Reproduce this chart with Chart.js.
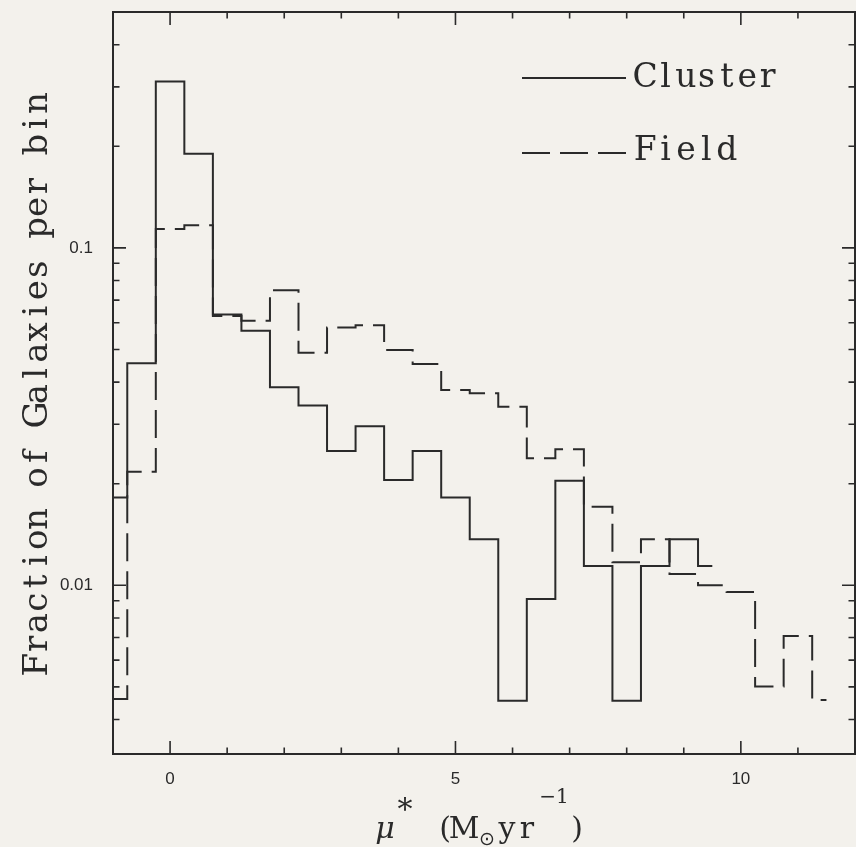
<!DOCTYPE html>
<html>
<head>
<meta charset="utf-8">
<script src="https://cdn.jsdelivr.net/npm/chart.js@4.4.1/dist/chart.umd.min.js"></script>
<style>
  html, body { margin: 0; padding: 0; background: #f3f1ec; }
  #c { display: block; }
</style>
</head>
<body>
<canvas id="c" width="856" height="847"></canvas>
<script>
// Histogram bins: centres of 0.5-wide bins in mu* (M_sun / yr)
const binCenters = [-1.0, -0.5, 0.0, 0.5, 1.0, 1.5, 2.0, 2.5, 3.0, 3.5, 4.0, 4.5, 5.0, 5.5,
                    6.0, 6.5, 7.0, 7.5, 8.0, 8.5, 9.0, 9.5, 10.0, 10.5, 11.0, 11.5, 12.0];

// Fraction of galaxies per bin
const clusterFrac = [0.0182, 0.0455, 0.311, 0.190, 0.0635, 0.0568, 0.0386, 0.0341, 0.0250, 0.0296,
                     0.0205, 0.0250, 0.0182, 0.0137, 0.00455, 0.0091, 0.0204, 0.0114, 0.00455, 0.0114,
                     0.0137, 0.0114, 0, 0, 0, 0, 0];
const fieldFrac   = [0.0046, 0.0217, 0.1138, 0.1167, 0.0628, 0.0608, 0.0749, 0.0489, 0.0581, 0.0590,
                     0.0498, 0.0453, 0.0379, 0.0371, 0.0338, 0.0238, 0.0253, 0.0171, 0.0117, 0.0137,
                     0.0108, 0.0100, 0.00955, 0.00501, 0.00708, 0.00457, 0];

// Axis ticks
const xTickLabels = [0, 5, 10];
const xMinorTicks = [-1, 0, 1, 2, 3, 4, 5, 6, 7, 8, 9, 10, 11, 12];
const yTickLabels = [0.01, 0.1];
const yMinorTicks = [0.004, 0.005, 0.006, 0.007, 0.008, 0.009, 0.01,
                     0.02, 0.03, 0.04, 0.05, 0.06, 0.07, 0.08, 0.09, 0.1,
                     0.2, 0.3, 0.4];

const INK = '#2a2a2a';
const PAPER = '#f3f1ec';
const SERIF = '"DejaVu Serif", "Liberation Serif", serif';

// Draw a string with every character centred in a fixed-width cell (typewriter look)
function monoText(ctx, str, x, y, cell) {
  ctx.textAlign = 'center';
  for (let i = 0; i < str.length; i++) {
    ctx.fillText(str[i], x + cell * (i + 0.5), y);
  }
}

const framePlugin = {
  id: 'frame',
  beforeDraw(chart) {
    const c = chart.ctx;
    c.save();
    c.fillStyle = PAPER;
    c.fillRect(0, 0, chart.width, chart.height);
    c.restore();
  },
  afterDraw(chart) {
    const { ctx, chartArea: a, scales: { x, y } } = chart;
    ctx.save();
    ctx.setLineDash([]);
    ctx.strokeStyle = INK;
    ctx.fillStyle = INK;

    // box round the plot
    ctx.lineWidth = 2;
    ctx.strokeRect(a.left, a.top, a.right - a.left, a.bottom - a.top);

    // inward tick marks on all four sides
    ctx.lineWidth = 1.6;
    ctx.beginPath();
    for (const v of xMinorTicks) {
      const px = x.getPixelForValue(v);
      const len = xTickLabels.includes(v) ? 13 : 6.5;
      ctx.moveTo(px, a.bottom); ctx.lineTo(px, a.bottom - len);
      ctx.moveTo(px, a.top); ctx.lineTo(px, a.top + len);
    }
    for (const v of yMinorTicks) {
      const py = y.getPixelForValue(v);
      const len = yTickLabels.includes(v) ? 13 : 6.5;
      ctx.moveTo(a.left, py); ctx.lineTo(a.left + len, py);
      ctx.moveTo(a.right, py); ctx.lineTo(a.right - len, py);
    }
    ctx.stroke();

    // legend: line sample + label, styled from each dataset
    const rows = [{ line: 78, text: 87 }, { line: 153, text: 160 }];
    chart.data.datasets.forEach((ds, i) => {
      const r = rows[i];
      ctx.lineWidth = 1.8;
      ctx.setLineDash(ds.borderDash || []);
      ctx.beginPath();
      ctx.moveTo(522, r.line);
      ctx.lineTo(626, r.line);
      ctx.stroke();
      ctx.setLineDash([]);
      ctx.font = '33px ' + SERIF;
      ctx.textBaseline = 'alphabetic';
      monoText(ctx, ds.label, 635, r.text, 20.4);
    });

    // y-axis title, rotated
    ctx.save();
    ctx.translate(47, 675);
    ctx.rotate(-Math.PI / 2);
    ctx.font = '34px ' + SERIF;
    ctx.textBaseline = 'alphabetic';
    monoText(ctx, 'Fraction of Galaxies per bin', 0, 0, 20.8);
    ctx.restore();

    // x-axis title: mu* (M_sun yr^-1)
    ctx.textBaseline = 'alphabetic';
    ctx.textAlign = 'center';
    ctx.font = 'italic 30px ' + SERIF;
    ctx.fillText('\u03BC', 385, 838);
    ctx.font = '30px ' + SERIF;
    ctx.fillText('*', 405, 819);
    ctx.fillText('(', 445, 838);
    ctx.fillText('M', 464, 838);
    ctx.font = '19px "DejaVu Sans", sans-serif';
    ctx.fillText('\u2299', 487, 845);
    ctx.font = '30px ' + SERIF;
    ctx.fillText('y', 507, 838);
    ctx.fillText('r', 527, 838);
    ctx.font = '20px ' + SERIF;
    ctx.fillText('\u22121', 554, 803);
    ctx.font = '30px ' + SERIF;
    ctx.fillText(')', 577, 838);

    ctx.restore();
  }
};

function toPoints(values) {
  return binCenters.map((c, i) => ({ x: c, y: values[i] }));
}

new Chart(document.getElementById('c'), {
  type: 'line',
  data: {
    datasets: [
      {
        label: 'Cluster',
        data: toPoints(clusterFrac),
        stepped: 'middle',
        borderColor: INK,
        borderWidth: 2,
        pointRadius: 0,
        fill: false
      },
      {
        label: 'Field',
        data: toPoints(fieldFrac),
        stepped: 'middle',
        borderColor: INK,
        borderWidth: 2,
        borderDash: [28, 10],
        pointRadius: 0,
        fill: false
      }
    ]
  },
  options: {
    responsive: false,
    animation: false,
    devicePixelRatio: 1,
    layout: { padding: { left: 0, top: 12, right: 1, bottom: 0 } },
    plugins: { legend: { display: false }, tooltip: { enabled: false } },
    scales: {
      x: {
        type: 'linear',
        min: -1,
        max: 12,
        grid: { display: false, drawTicks: false },
        border: { display: false },
        afterBuildTicks: s => { s.ticks = xTickLabels.map(v => ({ value: v })); },
        afterFit: s => { s.height = 93; s.paddingLeft = 0; s.paddingRight = 0; },
        ticks: {
          padding: 15,
          color: INK,
          maxRotation: 0,
          autoSkip: false,
          font: { family: '"Liberation Sans", Arial, sans-serif', size: 17 },
          callback: v => String(v)
        }
      },
      y: {
        type: 'logarithmic',
        min: Math.pow(10, -2.5),
        max: 0.5,
        grid: { display: false, drawTicks: false },
        border: { display: false },
        afterBuildTicks: s => { s.ticks = yTickLabels.map(v => ({ value: v })); },
        afterFit: s => { s.width = 113; s.paddingTop = 0; s.paddingBottom = 0; },
        ticks: {
          padding: 20,
          color: INK,
          autoSkip: false,
          font: { family: '"Liberation Sans", Arial, sans-serif', size: 17 },
          callback: v => String(v)
        }
      }
    }
  },
  plugins: [framePlugin]
});
</script>
</body>
</html>
